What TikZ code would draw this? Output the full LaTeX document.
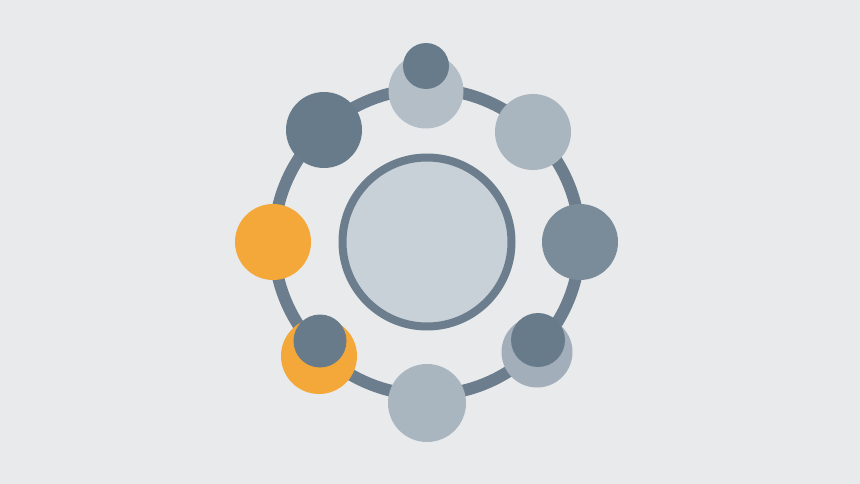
\documentclass[tikz,border=0pt]{standalone}
\definecolor{bg}{HTML}{E9EAEB}
\definecolor{ringc}{HTML}{6C7E8D}
\definecolor{darkn}{HTML}{687B8B}
\definecolor{midn}{HTML}{7A8B9A}
\definecolor{lightn}{HTML}{A9B5BF}
\definecolor{paleN}{HTML}{B3BEC7}
\definecolor{orangen}{HTML}{F5A83A}
\definecolor{centerf}{HTML}{C8D0D8}
\tikzset{
  dot/.style={circle, inner sep=0pt, draw=none, minimum size=#1},
}
\begin{document}
\begin{tikzpicture}[x=1pt,y=-1pt]
\fill[bg] (0,0) rectangle (860,484);
\useasboundingbox (0,0) rectangle (860,484);
\coordinate (c) at (427,242);
\draw[ringc, line width=12pt] (c) circle[radius=153];
\node[dot=169, fill=centerf, draw=ringc, line width=8pt] (hub) at (c) {};
% ring nodes
\node[dot=76, fill=darkn] (tl) at (324,130) {};
\node[dot=76, fill=lightn] (tr) at (533,132) {};
\node[dot=76, fill=midn] (r) at (580,242) {};
\node[dot=76, fill=orangen] (l) at (273,242) {};
\node[dot=78, fill=lightn] (b) at (427,403) {};
\node[dot=75, fill=paleN] (t) at (426,91) {};
\node[dot=46, fill=darkn] (ts) at (426,66) {};
\node[dot=76, fill=orangen] (bl) at (319,356) {};
\node[dot=53, fill=darkn] (bls) at (320,341) {};
\node[dot=71, fill=lightn!90!darkn] (br) at (537,352) {};
\node[dot=54, fill=darkn] (brs) at (538,340) {};
\end{tikzpicture}
\end{document}
